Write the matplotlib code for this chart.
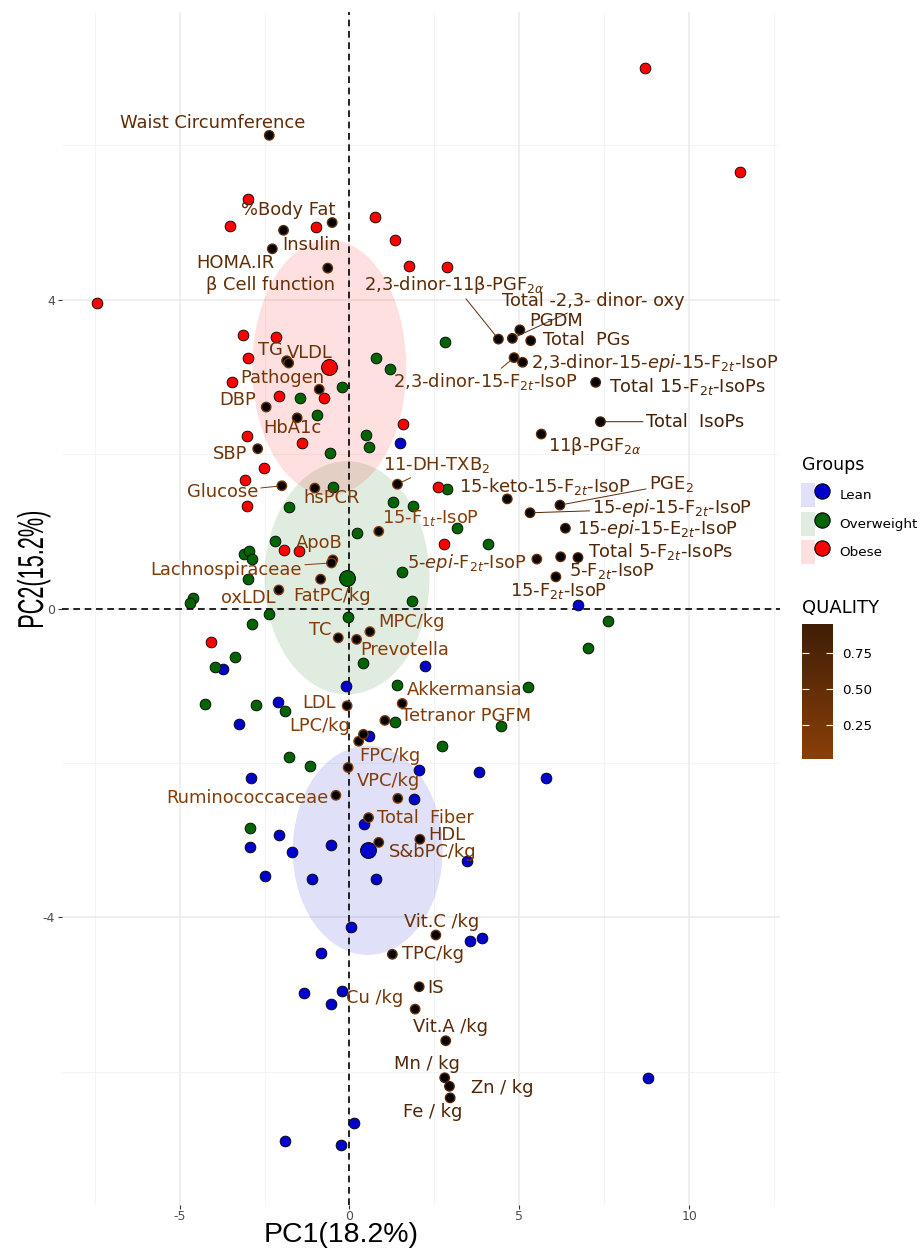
import numpy as np
import matplotlib
matplotlib.use("Agg")
import matplotlib.pyplot as plt
from matplotlib.patches import Ellipse, Patch, PathPatch
from matplotlib.lines import Line2D
from matplotlib.colors import LinearSegmentedColormap, Normalize
from matplotlib.legend_handler import HandlerTuple
from matplotlib.textpath import TextPath
from matplotlib.font_manager import FontProperties
from matplotlib.transforms import Affine2D

plt.rcParams["axes.unicode_minus"] = False

# individuals (PC1, PC2) by group
lean_x = [1.49, 6.71, -3.72, 2.22, -0.11, -2.10, -3.24, 0.56, 2.04, 3.82, 5.79, -2.90, 1.91,
          0.44, -2.06, -2.92, -0.53, -1.68, 3.47, -2.50, -1.09, 0.77, 0.04, 3.54, 3.91, -0.84,
          -1.33, -0.23, -0.53, 8.77, 0.13, -1.91, -0.24]
lean_y = [2.14, 0.04, -0.79, -0.75, -1.01, -1.21, -1.49, -1.65, -2.09, -2.12, -2.20, -2.19, -2.47,
          -2.79, -2.94, -3.09, -3.06, -3.15, -3.27, -3.47, -3.50, -3.51, -4.12, -4.31, -4.27, -4.46,
          -4.98, -4.95, -5.13, -6.08, -6.67, -6.90, -6.95]

over_x = [2.81, 0.78, 1.19, -0.22, -1.46, -0.96, -0.57, 0.49, 0.58, -0.48, -1.79, 1.29, 1.87,
          2.86, 0.23, 3.17, 4.06, -2.18, -3.10, -2.95, -2.87, -2.99, 1.54, 1.85, -4.59, -4.68,
          -2.36, -0.03, -2.86, 7.59, 7.02, -3.38, -3.97, 0.40, 1.41, 5.26, -4.26, -2.74, -1.91,
          1.34, 4.47, 2.72, -1.78, -1.17, -2.92]
over_y = [3.45, 3.25, 3.10, 2.87, 2.73, 2.51, 2.02, 2.25, 2.09, 1.58, 1.32, 1.38, 1.33,
          1.55, 0.98, 1.04, 0.84, 0.88, 0.71, 0.75, 0.64, 0.38, 0.47, 0.10, 0.14, 0.07,
          -0.07, -0.11, -0.20, -0.16, -0.51, -0.63, -0.76, -0.70, -0.99, -1.02, -1.24, -1.25, -1.33,
          -1.47, -1.52, -1.78, -1.93, -2.04, -2.84]

obese_x = [8.69, 11.49, -7.44, -2.98, -3.51, -0.99, 0.76, 1.35, 1.76, 2.86, -3.12, -2.16, -2.99,
           -3.46, -2.08, -0.74, -3.01, -1.40, -2.51, -3.06, -3.01, 1.58, 2.59, 2.79, -1.93, -1.48,
           -4.06]
obese_y = [7.00, 5.66, 3.96, 5.31, 4.96, 4.94, 5.07, 4.77, 4.44, 4.43, 3.54, 3.52, 3.25,
           2.94, 2.75, 2.73, 2.23, 2.14, 1.82, 1.66, 1.33, 2.39, 1.57, 0.83, 0.76, 0.74,
           -0.43]

group_names = ["Lean", "Overweight", "Obese"]
group_colors = ["#0000CD", "#006400", "#FF0000"]
# confidence ellipse size (width on PC1, height on PC2)
ellipse_w = [4.41, 4.85, 4.53]
ellipse_h = [2.71, 3.02, 3.31]

# variables
var_names = ["Waist Circumference", "%Body Fat", "Insulin", "HOMA.IR", "β Cell function",
             "2,3-dinor-11β-PGF$_{2\\alpha}$", "Total -2,3- dinor- oxy", "PGDM", "Total  PGs",
             "2,3-dinor-15-$\\it{epi}$-15-F$_{2t}$-IsoP", "2,3-dinor-15-F$_{2t}$-IsoP",
             "Total 15-F$_{2t}$-IsoPs", "Total  IsoPs", "11β-PGF$_{2\\alpha}$", "11-DH-TXB$_2$",
             "15-keto-15-F$_{2t}$-IsoP", "PGE$_2$", "15-$\\it{epi}$-15-F$_{2t}$-IsoP",
             "15-$\\it{epi}$-15-E$_{2t}$-IsoP", "15-F$_{1t}$-IsoP", "5-$\\it{epi}$-F$_{2t}$-IsoP",
             "Total 5-F$_{2t}$-IsoPs", "5-F$_{2t}$-IsoP", "15-F$_{2t}$-IsoP",
             "TG", "VLDL", "Pathogen", "DBP", "HbA1c", "SBP", "Glucose", "hsPCR", "ApoB",
             "Lachnospiraceae", "FatPC/kg", "oxLDL", "MPC/kg", "TC", "Prevotella", "Akkermansia",
             "LDL", "Tetranor PGFM", "LPC/kg", "", "FPC/kg", "VPC/kg", "Ruminococcaceae",
             "Total  Fiber", "HDL", "S&bPC/kg", "Vit.C /kg", "TPC/kg", "IS", "Cu /kg",
             "Vit.A /kg", "Mn / kg", "Zn / kg", "Fe / kg"]
var_x = [-2.36, -0.51, -1.94, -2.27, -0.64, 4.38, 4.79, 5.01, 5.33, 5.09, 4.84, 7.24, 7.38,
         5.64, 1.41, 4.64, 6.19, 5.31, 6.35, 0.86, 5.51, 6.72, 6.21, 6.07,
         -1.85, -1.79, -0.89, -2.45, -1.54, -2.70, -1.99, -1.02, -0.49, -0.53, -0.85, -2.08,
         0.60, -0.33, 0.21, 1.55, -0.07, 1.04, 0.27, 0.41, -0.04, 1.42, -0.40, 0.56, 2.07, 0.86,
         2.54, 1.26, 2.05, 1.93, 2.83, 2.80, 2.94, 2.96]
var_y = [6.13, 5.00, 4.90, 4.66, 4.41, 3.49, 3.50, 3.61, 3.47, 3.19, 3.25, 2.93, 2.42,
         2.26, 1.61, 1.42, 1.34, 1.24, 1.04, 1.00, 0.64, 0.66, 0.67, 0.41,
         3.21, 3.18, 2.84, 2.61, 2.47, 2.07, 1.59, 1.56, 0.63, 0.59, 0.38, 0.24,
         -0.30, -0.38, -0.40, -1.23, -1.26, -1.45, -1.72, -1.63, -2.06, -2.46, -2.42, -2.71, -2.99,
         -3.03, -4.23, -4.48, -4.90, -5.19, -5.60, -6.08, -6.19, -6.34]
quality = [0.55, 0.55, 0.55, 0.55, 0.50, 0.60, 0.65, 0.70, 0.72, 0.60, 0.45, 0.85, 0.953,
           0.60, 0.40, 0.55, 0.60, 0.70, 0.75, 0.012, 0.30, 0.75, 0.65, 0.60,
           0.40, 0.40, 0.30, 0.35, 0.35, 0.35, 0.25, 0.20, 0.15, 0.12, 0.15, 0.18,
           0.08, 0.12, 0.10, 0.12, 0.12, 0.15, 0.10, 0.15, 0.06, 0.08, 0.08, 0.12, 0.40,
           0.30, 0.45, 0.45, 0.65, 0.30, 0.65, 0.70, 0.75, 0.75]
# repelled label positions
label_x = [-4.01, -1.81, -1.11, -3.37, -2.31, 3.10, 7.16, 6.09, 6.97, 8.99, 3.99, 9.94, 10.16,
           7.21, 2.56, 5.74, 9.46, 9.50, 9.07, 2.37, 3.44, 9.16, 7.73, 6.14,
           -2.34, -1.16, -1.97, -3.28, -1.69, -3.50, -3.74, -0.54, -0.88, -3.62, -0.51, -2.99,
           1.81, -0.85, 1.63, 3.38, -0.89, 3.43, -0.87, np.nan, 1.19, 1.16, -3.00, 2.22, 2.86,
           2.44, 2.71, 2.46, 2.54, 0.75, 2.98, 2.29, 4.49, 2.44]
label_y = [6.29, 5.16, 4.71, 4.47, 4.19, 4.19, 3.98, 3.73, 3.48, 3.18, 2.94, 2.87, 2.42,
           2.11, 1.86, 1.58, 1.61, 1.30, 1.03, 1.17, 0.59, 0.74, 0.48, 0.23,
           3.35, 3.31, 2.99, 2.70, 2.34, 2.00, 1.51, 1.43, 0.85, 0.50, 0.16, 0.13,
           -0.18, -0.28, -0.54, -1.06, -1.22, -1.39, -1.52, np.nan, -1.91, -2.24, -2.45, -2.71, -2.93,
           -3.16, -4.06, -4.48, -4.92, -5.04, -5.42, -5.90, -6.21, -6.52]
with_segment = ["2,3-dinor-11β-PGF$_{2\\alpha}$", "Total -2,3- dinor- oxy",
                "2,3-dinor-15-F$_{2t}$-IsoP", "Total  IsoPs", "11-DH-TXB$_2$", "PGE$_2$",
                "15-$\\it{epi}$-15-F$_{2t}$-IsoP", "Glucose", "Lachnospiraceae"]

cmap = LinearSegmentedColormap.from_list("quality", ["#8A3F08", "#3F1E06"])
norm = Normalize(vmin=min(quality), vmax=max(quality))

fig = plt.figure(figsize=(9.22, 12.49), dpi=100)
ax = fig.add_axes([62 / 922, 44 / 1249, 718 / 922, 1193 / 1249])

groups = [(lean_x, lean_y), (over_x, over_y), (obese_x, obese_y)]
for (gx, gy), col, w, h in zip(groups, group_colors, ellipse_w, ellipse_h):
    cx, cy = np.mean(gx), np.mean(gy)
    ax.add_patch(Ellipse((cx, cy), w, h, facecolor=col, alpha=0.12, edgecolor="none", zorder=1))

ax.axhline(0, color="black", lw=1.2, ls=(0, (4, 2.8)), zorder=2)
ax.axvline(0, color="black", lw=1.2, ls=(0, (4, 2.8)), zorder=2)

for (gx, gy), col in zip(groups, group_colors):
    ax.scatter(gx, gy, s=60, c=col, edgecolors="black", linewidths=0.6, zorder=4)
for (gx, gy), col in zip(groups, group_colors):
    ax.scatter(np.mean(gx), np.mean(gy), s=130, c=col, edgecolors="black", linewidths=0.7, zorder=5)

var_cols = cmap(norm(np.array(quality)))
ax.scatter(var_x, var_y, s=46, c="black", edgecolors=var_cols, linewidths=1.0, zorder=6)

for name, vx, vy, lx, ly, col in zip(var_names, var_x, var_y, label_x, label_y, var_cols):
    if not name:
        continue
    if name in with_segment:
        ax.annotate(name, xy=(vx, vy), xytext=(lx, ly), ha="center", va="center",
                    fontsize=12.9, color=col, zorder=7,
                    arrowprops=dict(arrowstyle="-", color=col, lw=0.7, shrinkA=0, shrinkB=3))
    else:
        ax.text(lx, ly, name, ha="center", va="center", fontsize=12.9, color=col, zorder=7)

ax.set_xlim(-8.456, 12.662)
ax.set_ylim(-7.728, 7.728)
ax.set_xticks([-5, 0, 5, 10])
ax.set_xticks([-7.5, -2.5, 2.5, 7.5, 12.5], minor=True)
ax.set_yticks([-4, 0, 4])
ax.set_yticks([-6, -2, 2, 6], minor=True)
ax.grid(which="major", color="#EBEBEB", lw=1.1, zorder=0)
ax.grid(which="minor", color="#F2F2F2", lw=0.6, zorder=0)
ax.set_axisbelow(True)
ax.tick_params(which="major", length=3, width=0.8, color="#333333", labelsize=9,
               labelcolor="#4D4D4D", pad=2)
ax.tick_params(axis="x", which="major", pad=0.5)
ax.tick_params(which="minor", length=0)
for sp in ax.spines.values():
    sp.set_visible(False)

# axis titles
fig.text(341 / 922, 1 - 1242.5 / 1249, "PC1(18.2%)", fontsize=20.5, ha="center", va="baseline",
         family="Liberation Sans")
tp = TextPath((0, 0), "PC2(15.2%)", size=1, prop=FontProperties(family="Liberation Sans"))
ext = tp.get_extents()
tr = Affine2D().translate(-ext.x0, 0).scale(115 / ext.width, 36).rotate_deg(90).translate(43, 1249 - 627)
fig.add_artist(PathPatch(tp, transform=tr, facecolor="black", edgecolor="none"))

# groups legend
fig.text(802 / 922, 1 - 465 / 1249, "Groups", fontsize=12.5, ha="left", va="center")
handles = [(Patch(facecolor=matplotlib.colors.to_rgba(c, 0.12), edgecolor="none"),
            Line2D([], [], ls="", marker="o", markersize=11, markerfacecolor=c,
                   markeredgecolor="black", markeredgewidth=0.8)) for c in group_colors]
fig.legend(handles, group_names, handler_map={tuple: HandlerTuple(ndivide=None, pad=0)},
           loc="upper left", bbox_to_anchor=(801 / 922, 1 - 483 / 1249), frameon=False,
           fontsize=9.7, handlelength=2.07, handleheight=2.37, handletextpad=0.8,
           labelspacing=0.33, borderpad=0, borderaxespad=0)

# quality colorbar
cax = fig.add_axes([801.7 / 922, 1 - 759.3 / 1249, 31 / 922, 135.3 / 1249])
sm = matplotlib.cm.ScalarMappable(norm=norm, cmap=cmap)
cb = fig.colorbar(sm, cax=cax, ticks=[0.25, 0.5, 0.75])
cb.outline.set_visible(False)
cb.ax.set_yticklabels(["0.25", "0.50", "0.75"])
cb.ax.tick_params(left=True, right=True, direction="in", length=5, width=0.8, color="white",
                  labelsize=9.7, pad=7)
fig.text(802 / 922, 1 - 608 / 1249, "QUALITY", fontsize=13, ha="left", va="center")

fig.savefig("out.png", dpi=100)
